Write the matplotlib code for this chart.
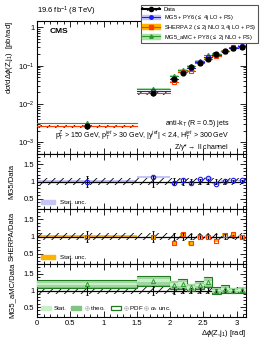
#! /usr/bin/env python3
import numpy as np
import matplotlib
matplotlib.use("Agg")
import matplotlib.pyplot as plt
from matplotlib.patches import Rectangle, Patch
from matplotlib.lines import Line2D
from matplotlib.ticker import MultipleLocator, FixedLocator, FixedFormatter

plt.rcParams['font.family'] = ['Liberation Sans', 'DejaVu Sans']
plt.rcParams['mathtext.fontset'] = 'custom'
plt.rcParams['mathtext.rm'] = 'Liberation Sans'
plt.rcParams['mathtext.it'] = 'Liberation Sans:italic'
plt.rcParams['mathtext.bf'] = 'Liberation Sans:bold'
plt.rcParams['hatch.linewidth'] = 0.6

# bin edges in delta phi(Z, j1)
edges = [0.0, 1.5, 2.0, 2.1269, 2.2538, 2.3806, 2.5075, 2.6344, 2.7613, 2.8881, 3.015, 3.1416]
# measured cross section [pb/rad]
data_xs = [2.6e-3, 0.019, 0.046, 0.066, 0.091, 0.116, 0.148, 0.20, 0.235, 0.28, 0.31]
data_stat = [0.15, 0.15, 0.10, 0.09, 0.08, 0.08, 0.07, 0.06, 0.06, 0.05, 0.05]
data_syst = [0.10, 0.10, 0.10, 0.10, 0.10, 0.10, 0.10, 0.10, 0.10, 0.10, 0.10]

# prediction / data
mg5_ratio = [1.0, 1.12, 0.96, 1.05, 0.97, 1.06, 1.10, 0.94, 1.01, 1.03, 1.03]
mg5_stat = [0.03, 0.03, 0.02, 0.02, 0.02, 0.02, 0.02, 0.02, 0.02, 0.02, 0.02]
sherpa_ratio = [1.0, 0.99, 0.81, 1.06, 0.81, 1.0, 1.0, 0.88, 1.05, 1.07, 1.0]
sherpa_stat = [0.05, 0.05, 0.06, 0.05, 0.05, 0.04, 0.04, 0.05, 0.04, 0.04, 0.04]
amc_ratio = [1.2, 1.3, 1.18, 1.2, 1.1, 1.17, 1.25, 1.0, 1.05, 1.0, 1.02]
amc_stat = [0.04, 0.05, 0.04, 0.05, 0.04, 0.04, 0.05, 0.03, 0.03, 0.03, 0.03]
amc_theo = [0.10, 0.12, 0.10, 0.12, 0.09, 0.10, 0.12, 0.08, 0.09, 0.07, 0.08]
amc_tot = [0.13, 0.15, 0.12, 0.15, 0.11, 0.13, 0.15, 0.10, 0.12, 0.09, 0.10]

edges = np.array(edges)
centers = 0.5 * (edges[:-1] + edges[1:])
widths = np.diff(edges)
data_xs = np.array(data_xs)

W, H = 266, 344
fig = plt.figure(figsize=(W / 100, H / 100), dpi=100)
L, R = 37 / W, 246 / W


def ax_at(top, bot):
    return fig.add_axes([L, 1 - bot / H, R - L, (bot - top) / H])


ax = ax_at(21, 154)
r1 = ax_at(154, 209)
r2 = ax_at(209, 264)
r3 = ax_at(264, 317)

blue, lblue = '#1a1aff', '#c4c4f6'
orange, red = '#ffb300', '#ff3c00'
green, lgreen = '#2a9a2a', '#a8e0a8'
fs = 5

# ---- main panel
for i in range(len(centers)):
    x0, w = edges[i], widths[i]
    y = data_xs[i]
    ax.add_patch(Rectangle((x0, y * (1 - data_syst[i])), w, y * 2 * data_syst[i],
                           fill=False, hatch='////', lw=0, edgecolor='k', zorder=2))
    for rat, st, col, bcol, mk in [(amc_ratio, amc_stat, green, lgreen, '^'),
                                   (mg5_ratio, mg5_stat, blue, lblue, 'o'),
                                   (sherpa_ratio, sherpa_stat, red, orange, 's')]:
        v = y * rat[i]
        ax.add_patch(Rectangle((x0, v * (1 - st[i])), w, v * 2 * st[i],
                               color=bcol, lw=0, zorder=3))
        ax.plot([x0, x0 + w], [v, v], color=col, lw=0.8, zorder=4)
        ax.plot(centers[i], v, marker=mk, ms=3.2, mfc='none', mec=col, mew=0.8, zorder=5)
ax.errorbar(centers, data_xs, yerr=data_xs * np.array(data_stat), fmt='o', color='k',
            ms=3.4, elinewidth=0.8, capsize=0, zorder=6)
ax.set_yscale('log')
ax.set_ylim(5e-4, 1.45)
ax.yaxis.set_major_locator(FixedLocator([1e-3, 1e-2, 1e-1, 1]))
ax.yaxis.set_major_formatter(FixedFormatter(['10$^{-3}$', '10$^{-2}$', '10$^{-1}$', '1']))
ax.set_ylabel(r'd$\sigma$/d$\Delta\phi$(Z,j$_1$)  [pb/rad]', fontsize=5.5, y=1, ha='right', labelpad=2)
ax.text(0.06, 0.95, 'CMS', transform=ax.transAxes, fontsize=6, fontweight='bold', va='top')
ax.text(0, 1.02, '19.6 fb$^{-1}$ (8 TeV)', transform=ax.transAxes, fontsize=5.5, va='bottom')
ax.text(0.92, 0.215, 'anti-k$_{T}$ (R = 0.5) jets', transform=ax.transAxes, fontsize=fs, ha='right')
ax.text(0.92, 0.12, 'p$_{T}^{Z}$ > 150 GeV, p$_{T}^{jet}$ > 30 GeV, |y$^{jet}$| < 2.4, H$_{T}^{jet}$ > 300 GeV',
        transform=ax.transAxes, fontsize=fs, ha='right')
ax.text(0.92, 0.04, r'Z/$\gamma$*$\rightarrow$ ll channel', transform=ax.transAxes, fontsize=fs, ha='right')

# legend
h_data = (Patch(facecolor='none', hatch='////', edgecolor='k', lw=0),
          Line2D([], [], color='k', marker='o', ms=3))
h_mg5 = (Patch(color=lblue), Line2D([], [], color=blue, marker='o', ms=2.5, lw=0.8))
h_sh = (Patch(color=orange), Line2D([], [], color=red, marker='s', ms=2.5, lw=0.8))
h_amc = (Patch(color=lgreen), Line2D([], [], color=green, marker='^', ms=2.5, lw=0.8))
leg = fig.legend([h_data, h_mg5, h_sh, h_amc],
                 ['Data', 'MG5 + PY6 ($\\leq$ 4j LO + PS)',
                  'SHERPA 2 ($\\leq$ 2j NLO 3,4j LO + PS)',
                  'MG5_aMC + PY8 ($\\leq$ 2j NLO + PS)'],
                 loc='upper right', bbox_to_anchor=(258 / W, 1 - 5 / H), fontsize=4.1,
                 frameon=True, fancybox=False, framealpha=1, edgecolor='#555555',
                 handlelength=3.2, handleheight=0.9, borderpad=0.3, labelspacing=0.15,
                 handletextpad=0.6, borderaxespad=0)
leg.get_frame().set_linewidth(0.8)

# ---- ratio panels
def data_band(a):
    for i in range(len(centers)):
        a.add_patch(Rectangle((edges[i], 1 - data_syst[i]), widths[i], 2 * data_syst[i],
                              fill=False, hatch='////', lw=0, edgecolor='k', zorder=2))
    a.axhline(1, color='k', lw=0.9, zorder=3)
    a.errorbar(centers, np.ones(len(centers)), yerr=data_stat, fmt='none', ecolor='k',
               elinewidth=0.8, capsize=1, capthick=0.6, zorder=6)


data_band(r1)
for i in range(len(centers)):
    r1.add_patch(Rectangle((edges[i], mg5_ratio[i] - mg5_stat[i]), widths[i], 2 * mg5_stat[i],
                           color=lblue, lw=0, zorder=1))
r1.plot(centers, mg5_ratio, 'o', ms=3.2, mfc='none', mec=blue, mew=0.8, zorder=7)
r1.set_ylabel('MG5/Data', fontsize=5.5, labelpad=6)
r1.legend([Patch(color=lblue)], ['Stat. unc.'], loc='lower left', fontsize=4.5, frameon=False,
          handlelength=2.2, borderaxespad=0.2)

data_band(r2)
for i in range(len(centers)):
    r2.add_patch(Rectangle((centers[i] - 0.04, sherpa_ratio[i] - sherpa_stat[i]), 0.08,
                           2 * sherpa_stat[i], color=orange, lw=0, zorder=4))
r2.add_patch(Rectangle((0, 1 - sherpa_stat[0]), 1.5, 2 * sherpa_stat[0], color=orange,
                       alpha=0.9, lw=0, zorder=1))
r2.plot(centers, sherpa_ratio, 's', ms=3, mfc='none', mec=red, mew=0.8, zorder=7)
r2.set_ylabel('SHERPA/Data', fontsize=5.5, labelpad=6)
r2.legend([Patch(color=orange)], ['Stat. unc.'], loc='lower left', fontsize=4.5, frameon=False,
          handlelength=2.2, borderaxespad=0.2)

data_band(r3)
for i in range(len(centers)):
    v = amc_ratio[i]
    r3.add_patch(Rectangle((edges[i], v - amc_tot[i]), widths[i], 2 * amc_tot[i],
                           facecolor='#7fc47f', edgecolor='#1f7a1f', lw=0.8, zorder=4))
    r3.add_patch(Rectangle((edges[i], v - amc_theo[i]), widths[i], 2 * amc_theo[i],
                           facecolor='#9fd69f', lw=0, zorder=4))
    r3.add_patch(Rectangle((edges[i], v - amc_stat[i]), widths[i], 2 * amc_stat[i],
                           facecolor='#c8f0c8', lw=0, zorder=4))
r3.plot(centers, amc_ratio, '^', ms=3, mfc='none', mec=green, mew=0.7, zorder=7)
r3.set_ylabel('MG5_aMC/Data', fontsize=5.5, labelpad=6)
r3.legend([Patch(color='#c8f0c8'), Patch(color='#7fc47f'),
           Patch(facecolor='white', edgecolor='#1f7a1f', lw=0.9)],
          ['Stat.', '$\\oplus$ theo.', '$\\oplus$ PDF $\\oplus$ $\\alpha_{s}$ unc.'],
          loc='lower left', ncol=3, fontsize=4.5, frameon=False, handlelength=1.6,
          columnspacing=0.8, handletextpad=0.4, borderaxespad=0.2)
r3.set_xlabel(r'$\Delta\phi$(Z,j$_1$) [rad]', fontsize=5.5, x=1, ha='right', labelpad=1)

for a in (ax, r1, r2, r3):
    a.set_xlim(0, np.pi)
    a.xaxis.set_major_locator(MultipleLocator(0.5))
    a.xaxis.set_minor_locator(MultipleLocator(0.1))
    a.tick_params(which='both', direction='in', top=True, right=True, labelsize=5.5,
                  width=0.6, pad=2)
    a.tick_params(which='major', length=4)
    a.tick_params(which='minor', length=2)
    for s in a.spines.values():
        s.set_linewidth(0.8)
    if a is not r3:
        a.tick_params(labelbottom=False)
for a in (r1, r2, r3):
    a.set_ylim(0.2, 1.8)
    a.yaxis.set_major_locator(FixedLocator([0.5, 1, 1.5]))
    a.yaxis.set_major_formatter(FixedFormatter(['0.5', '1', '1.5']))
    a.yaxis.set_minor_locator(MultipleLocator(0.1))
r3.set_xticks([0, 0.5, 1, 1.5, 2, 2.5, 3])
r3.xaxis.set_major_formatter(FixedFormatter(['0', '0.5', '1', '1.5', '2', '2.5', '3']))

fig.savefig('out.png', dpi=100)
